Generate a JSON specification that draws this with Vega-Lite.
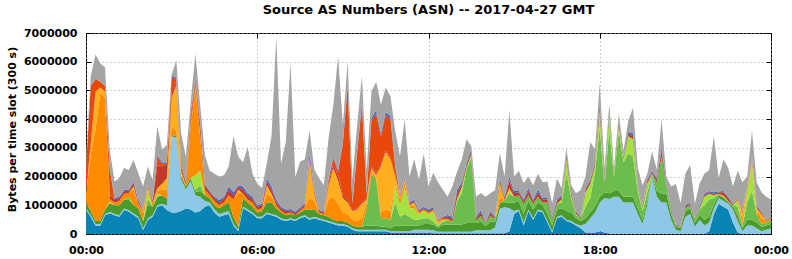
{
"$schema":"https://vega.github.io/schema/vega-lite/v6.json",
"width":685,"height":201,
"autosize":"none",
"padding":{"left":86,"top":33,"right":21,"bottom":25},
"background":"white",
"title":{"text":"Source AS Numbers (ASN) -- 2017-04-27 GMT","font":"DejaVu Sans","fontSize":13,"fontWeight":"bold","color":"black","anchor":"middle","offset":10},
"data":{"values":[
{"t":0,"A":850000,"B":50000,"C":200000,"D":0,"E":0,"F":300000,"G":0,"H":0,"I":900000,"J":0,"K":300000},
{"t":10,"A":600000,"B":50000,"C":150000,"D":0,"E":0,"F":2000000,"G":300000,"H":50000,"I":2000000,"J":0,"K":350000},
{"t":20,"A":300000,"B":50000,"C":100000,"D":0,"E":0,"F":3200000,"G":1300000,"H":0,"I":450000,"J":0,"K":850000},
{"t":30,"A":300000,"B":50000,"C":100000,"D":0,"E":0,"F":4450000,"G":200000,"H":0,"I":200000,"J":0,"K":650000},
{"t":40,"A":650000,"B":50000,"C":150000,"D":0,"E":0,"F":3900000,"G":200000,"H":0,"I":200000,"J":0,"K":650000},
{"t":50,"A":720000,"B":50000,"C":300000,"D":0,"E":50000,"F":100000,"G":0,"H":150000,"I":900000,"J":50000,"K":600000},
{"t":60,"A":650000,"B":50000,"C":300000,"D":0,"E":0,"F":100000,"G":0,"H":100000,"I":0,"J":50000,"K":580000},
{"t":70,"A":600000,"B":50000,"C":350000,"D":0,"E":0,"F":150000,"G":0,"H":100000,"I":0,"J":50000,"K":650000},
{"t":80,"A":840000,"B":50000,"C":300000,"D":0,"E":0,"F":200000,"G":0,"H":100000,"I":0,"J":50000,"K":760000},
{"t":90,"A":780000,"B":50000,"C":350000,"D":100000,"E":0,"F":150000,"G":0,"H":80000,"I":0,"J":40000,"K":680000},
{"t":100,"A":660000,"B":50000,"C":300000,"D":0,"E":0,"F":550000,"G":100000,"H":120000,"I":0,"J":50000,"K":750000},
{"t":110,"A":550000,"B":50000,"C":300000,"D":0,"E":0,"F":150000,"G":0,"H":80000,"I":0,"J":60000,"K":930000},
{"t":120,"A":140000,"B":50000,"C":250000,"D":0,"E":0,"F":300000,"G":50000,"H":50000,"I":0,"J":0,"K":810000},
{"t":130,"A":490000,"B":50000,"C":500000,"D":200000,"E":300000,"F":100000,"G":0,"H":60000,"I":0,"J":0,"K":650000},
{"t":140,"A":600000,"B":50000,"C":300000,"D":0,"E":0,"F":150000,"G":0,"H":50000,"I":0,"J":40000,"K":690000},
{"t":150,"A":950000,"B":50000,"C":300000,"D":0,"E":100000,"F":100000,"G":100000,"H":800000,"I":300000,"J":50000,"K":1000000},
{"t":160,"A":1000000,"B":50000,"C":300000,"D":0,"E":0,"F":200000,"G":200000,"H":600000,"I":100000,"J":50000,"K":430000},
{"t":170,"A":840000,"B":150000,"C":250000,"D":0,"E":0,"F":300000,"G":400000,"H":500000,"I":0,"J":50000,"K":610000},
{"t":180,"A":750000,"B":2650000,"C":50000,"D":0,"E":0,"F":300000,"G":1000000,"H":200000,"I":500000,"J":50000,"K":50000},
{"t":190,"A":750000,"B":2600000,"C":50000,"D":0,"E":0,"F":200000,"G":1600000,"H":100000,"I":100000,"J":50000,"K":600000},
{"t":200,"A":800000,"B":1100000,"C":100000,"D":0,"E":0,"F":100000,"G":100000,"H":100000,"I":100000,"J":50000,"K":1050000},
{"t":210,"A":900000,"B":650000,"C":100000,"D":0,"E":0,"F":0,"G":50000,"H":100000,"I":0,"J":50000,"K":850000},
{"t":220,"A":850000,"B":1000000,"C":100000,"D":0,"E":0,"F":1800000,"G":50000,"H":200000,"I":200000,"J":50000,"K":350000},
{"t":230,"A":750000,"B":600000,"C":100000,"D":100000,"E":500000,"F":3000000,"G":100000,"H":150000,"I":100000,"J":50000,"K":830000},
{"t":240,"A":800000,"B":500000,"C":200000,"D":200000,"E":500000,"F":1200000,"G":100000,"H":300000,"I":100000,"J":50000,"K":550000},
{"t":250,"A":950000,"B":200000,"C":200000,"D":0,"E":0,"F":200000,"G":0,"H":150000,"I":0,"J":50000,"K":1000000},
{"t":260,"A":1000000,"B":100000,"C":150000,"D":0,"E":0,"F":100000,"G":0,"H":100000,"I":0,"J":50000,"K":700000},
{"t":270,"A":750000,"B":100000,"C":150000,"D":0,"E":0,"F":150000,"G":0,"H":100000,"I":0,"J":50000,"K":800000},
{"t":280,"A":600000,"B":100000,"C":200000,"D":0,"E":0,"F":100000,"G":0,"H":100000,"I":0,"J":80000,"K":820000},
{"t":290,"A":650000,"B":100000,"C":250000,"D":0,"E":0,"F":100000,"G":0,"H":150000,"I":0,"J":50000,"K":750000},
{"t":300,"A":700000,"B":100000,"C":300000,"D":0,"E":0,"F":250000,"G":0,"H":200000,"I":0,"J":100000,"K":700000},
{"t":310,"A":300000,"B":50000,"C":250000,"D":0,"E":0,"F":600000,"G":0,"H":150000,"I":0,"J":100000,"K":1950000},
{"t":320,"A":100000,"B":50000,"C":100000,"D":0,"E":0,"F":1200000,"G":100000,"H":100000,"I":0,"J":50000,"K":1000000},
{"t":330,"A":900000,"B":50000,"C":300000,"D":0,"E":0,"F":150000,"G":0,"H":150000,"I":0,"J":100000,"K":850000},
{"t":340,"A":800000,"B":50000,"C":250000,"D":0,"E":0,"F":100000,"G":0,"H":150000,"I":0,"J":70000,"K":1600000},
{"t":350,"A":700000,"B":50000,"C":200000,"D":0,"E":0,"F":150000,"G":0,"H":120000,"I":0,"J":80000,"K":800000},
{"t":360,"A":550000,"B":50000,"C":150000,"D":0,"E":0,"F":100000,"G":0,"H":100000,"I":0,"J":50000,"K":750000},
{"t":370,"A":550000,"B":50000,"C":200000,"D":0,"E":0,"F":100000,"G":0,"H":100000,"I":0,"J":50000,"K":550000},
{"t":380,"A":700000,"B":50000,"C":350000,"D":0,"E":0,"F":300000,"G":300000,"H":150000,"I":0,"J":100000,"K":500000},
{"t":390,"A":650000,"B":50000,"C":400000,"D":0,"E":0,"F":200000,"G":100000,"H":150000,"I":0,"J":100000,"K":1750000},
{"t":400,"A":600000,"B":50000,"C":250000,"D":0,"E":0,"F":100000,"G":0,"H":120000,"I":0,"J":70000,"K":5690000},
{"t":410,"A":500000,"B":50000,"C":200000,"D":0,"E":0,"F":50000,"G":0,"H":100000,"I":0,"J":50000,"K":1500000},
{"t":420,"A":450000,"B":50000,"C":150000,"D":0,"E":0,"F":50000,"G":0,"H":100000,"I":0,"J":50000,"K":2350000},
{"t":430,"A":500000,"B":50000,"C":150000,"D":0,"E":0,"F":50000,"G":0,"H":70000,"I":0,"J":50000,"K":5100000},
{"t":440,"A":450000,"B":50000,"C":150000,"D":0,"E":0,"F":0,"G":0,"H":80000,"I":0,"J":50000,"K":1200000},
{"t":450,"A":550000,"B":50000,"C":150000,"D":0,"E":0,"F":50000,"G":0,"H":70000,"I":0,"J":50000,"K":1600000},
{"t":460,"A":600000,"B":50000,"C":200000,"D":0,"E":0,"F":100000,"G":0,"H":70000,"I":0,"J":50000,"K":1530000},
{"t":470,"A":500000,"B":50000,"C":300000,"D":0,"E":0,"F":400000,"G":1300000,"H":100000,"I":0,"J":150000,"K":800000},
{"t":480,"A":550000,"B":50000,"C":250000,"D":0,"E":0,"F":300000,"G":250000,"H":100000,"I":0,"J":50000,"K":700000},
{"t":490,"A":500000,"B":50000,"C":150000,"D":0,"E":0,"F":50000,"G":0,"H":50000,"I":0,"J":40000,"K":1100000},
{"t":500,"A":450000,"B":50000,"C":150000,"D":0,"E":0,"F":50000,"G":0,"H":50000,"I":0,"J":40000,"K":910000},
{"t":510,"A":400000,"B":50000,"C":150000,"D":0,"E":0,"F":600000,"G":500000,"H":100000,"I":100000,"J":50000,"K":1400000},
{"t":520,"A":350000,"B":50000,"C":100000,"D":0,"E":0,"F":800000,"G":1000000,"H":150000,"I":200000,"J":50000,"K":1800000},
{"t":530,"A":300000,"B":50000,"C":100000,"D":0,"E":0,"F":600000,"G":800000,"H":150000,"I":150000,"J":80000,"K":3970000},
{"t":540,"A":300000,"B":50000,"C":100000,"D":0,"E":0,"F":300000,"G":500000,"H":100000,"I":1800000,"J":50000,"K":600000},
{"t":550,"A":250000,"B":50000,"C":100000,"D":0,"E":0,"F":300000,"G":400000,"H":100000,"I":3900000,"J":100000,"K":800000},
{"t":560,"A":150000,"B":50000,"C":100000,"D":0,"E":0,"F":200000,"G":300000,"H":50000,"I":200000,"J":50000,"K":800000},
{"t":570,"A":100000,"B":50000,"C":100000,"D":0,"E":0,"F":200000,"G":400000,"H":50000,"I":1900000,"J":100000,"K":900000},
{"t":580,"A":100000,"B":50000,"C":100000,"D":0,"E":0,"F":300000,"G":500000,"H":50000,"I":3400000,"J":100000,"K":900000},
{"t":590,"A":100000,"B":50000,"C":150000,"D":600000,"E":0,"F":200000,"G":100000,"H":50000,"I":100000,"J":50000,"K":800000},
{"t":600,"A":100000,"B":50000,"C":150000,"D":1800000,"E":0,"F":100000,"G":100000,"H":50000,"I":1600000,"J":100000,"K":900000},
{"t":610,"A":100000,"B":50000,"C":150000,"D":1600000,"E":0,"F":50000,"G":100000,"H":50000,"I":2100000,"J":100000,"K":1000000},
{"t":620,"A":100000,"B":50000,"C":100000,"D":300000,"E":0,"F":200000,"G":1600000,"H":50000,"I":1000000,"J":100000,"K":1000000},
{"t":630,"A":100000,"B":50000,"C":100000,"D":300000,"E":0,"F":300000,"G":2000000,"H":50000,"I":1250000,"J":100000,"K":850000},
{"t":640,"A":50000,"B":50000,"C":100000,"D":300000,"E":0,"F":300000,"G":1800000,"H":50000,"I":1350000,"J":100000,"K":700000},
{"t":650,"A":50000,"B":50000,"C":200000,"D":800000,"E":600000,"F":100000,"G":200000,"H":50000,"I":300000,"J":50000,"K":1200000},
{"t":660,"A":50000,"B":50000,"C":200000,"D":300000,"E":400000,"F":200000,"G":100000,"H":50000,"I":0,"J":50000,"K":1300000},
{"t":670,"A":50000,"B":50000,"C":200000,"D":400000,"E":900000,"F":200000,"G":100000,"H":50000,"I":0,"J":50000,"K":2000000},
{"t":680,"A":50000,"B":50000,"C":200000,"D":300000,"E":300000,"F":50000,"G":50000,"H":50000,"I":0,"J":50000,"K":900000},
{"t":690,"A":50000,"B":100000,"C":150000,"D":200000,"E":400000,"F":100000,"G":100000,"H":50000,"I":0,"J":50000,"K":1400000},
{"t":700,"A":50000,"B":100000,"C":150000,"D":200000,"E":200000,"F":50000,"G":0,"H":50000,"I":0,"J":40000,"K":1050000},
{"t":710,"A":50000,"B":100000,"C":200000,"D":200000,"E":250000,"F":50000,"G":0,"H":50000,"I":0,"J":50000,"K":1850000},
{"t":720,"A":50000,"B":100000,"C":200000,"D":200000,"E":150000,"F":50000,"G":0,"H":50000,"I":0,"J":50000,"K":800000},
{"t":730,"A":30000,"B":100000,"C":200000,"D":100000,"E":350000,"F":50000,"G":0,"H":50000,"I":0,"J":50000,"K":1200000},
{"t":740,"A":30000,"B":50000,"C":150000,"D":50000,"E":50000,"F":50000,"G":50000,"H":0,"I":50000,"J":20000,"K":1300000},
{"t":750,"A":30000,"B":50000,"C":250000,"D":100000,"E":50000,"F":50000,"G":0,"H":50000,"I":0,"J":20000,"K":950000},
{"t":760,"A":30000,"B":50000,"C":250000,"D":150000,"E":0,"F":50000,"G":0,"H":80000,"I":0,"J":50000,"K":640000},
{"t":770,"A":30000,"B":50000,"C":250000,"D":100000,"E":0,"F":0,"G":0,"H":100000,"I":0,"J":70000,"K":1050000},
{"t":780,"A":30000,"B":50000,"C":250000,"D":800000,"E":100000,"F":0,"G":0,"H":200000,"I":0,"J":100000,"K":640000},
{"t":790,"A":30000,"B":50000,"C":250000,"D":1100000,"E":200000,"F":0,"G":0,"H":100000,"I":0,"J":70000,"K":800000},
{"t":800,"A":30000,"B":50000,"C":300000,"D":1900000,"E":50000,"F":0,"G":0,"H":100000,"I":0,"J":70000,"K":800000},
{"t":810,"A":30000,"B":50000,"C":300000,"D":2300000,"E":100000,"F":0,"G":0,"H":100000,"I":0,"J":70000,"K":100000},
{"t":820,"A":30000,"B":100000,"C":250000,"D":100000,"E":0,"F":0,"G":0,"H":70000,"I":0,"J":50000,"K":700000},
{"t":830,"A":30000,"B":100000,"C":300000,"D":200000,"E":0,"F":0,"G":0,"H":120000,"I":0,"J":80000,"K":600000},
{"t":840,"A":30000,"B":100000,"C":150000,"D":100000,"E":0,"F":0,"G":0,"H":30000,"I":0,"J":20000,"K":870000},
{"t":850,"A":30000,"B":100000,"C":300000,"D":200000,"E":0,"F":0,"G":0,"H":100000,"I":0,"J":50000,"K":640000},
{"t":860,"A":30000,"B":200000,"C":200000,"D":100000,"E":0,"F":0,"G":0,"H":40000,"I":0,"J":30000,"K":930000},
{"t":870,"A":30000,"B":850000,"C":200000,"D":0,"E":0,"F":200000,"G":500000,"H":100000,"I":0,"J":100000,"K":830000},
{"t":880,"A":30000,"B":900000,"C":150000,"D":100000,"E":0,"F":0,"G":0,"H":70000,"I":0,"J":50000,"K":700000},
{"t":890,"A":100000,"B":800000,"C":200000,"D":300000,"E":100000,"F":0,"G":100000,"H":250000,"I":50000,"J":100000,"K":2300000},
{"t":900,"A":700000,"B":100000,"C":300000,"D":200000,"E":0,"F":0,"G":0,"H":120000,"I":0,"J":80000,"K":500000},
{"t":910,"A":800000,"B":50000,"C":300000,"D":200000,"E":0,"F":0,"G":0,"H":100000,"I":0,"J":50000,"K":700000},
{"t":920,"A":300000,"B":100000,"C":300000,"D":350000,"E":0,"F":0,"G":0,"H":100000,"I":0,"J":50000,"K":570000},
{"t":930,"A":800000,"B":50000,"C":300000,"D":200000,"E":0,"F":0,"G":0,"H":150000,"I":0,"J":100000,"K":400000},
{"t":940,"A":500000,"B":50000,"C":300000,"D":200000,"E":0,"F":0,"G":0,"H":100000,"I":0,"J":50000,"K":500000},
{"t":950,"A":800000,"B":50000,"C":250000,"D":200000,"E":0,"F":0,"G":0,"H":150000,"I":0,"J":100000,"K":550000},
{"t":960,"A":750000,"B":50000,"C":200000,"D":100000,"E":0,"F":0,"G":0,"H":100000,"I":0,"J":50000,"K":550000},
{"t":970,"A":400000,"B":50000,"C":250000,"D":400000,"E":0,"F":0,"G":0,"H":100000,"I":0,"J":50000,"K":580000},
{"t":980,"A":50000,"B":50000,"C":200000,"D":200000,"E":0,"F":0,"G":0,"H":50000,"I":0,"J":50000,"K":470000},
{"t":990,"A":550000,"B":50000,"C":250000,"D":200000,"E":0,"F":0,"G":0,"H":100000,"I":0,"J":50000,"K":740000},
{"t":1000,"A":600000,"B":50000,"C":250000,"D":200000,"E":100000,"F":0,"G":0,"H":100000,"I":0,"J":50000,"K":250000},
{"t":1010,"A":450000,"B":50000,"C":300000,"D":1300000,"E":500000,"F":0,"G":0,"H":100000,"I":0,"J":100000,"K":200000},
{"t":1020,"A":400000,"B":50000,"C":300000,"D":500000,"E":100000,"F":0,"G":0,"H":100000,"I":0,"J":50000,"K":200000},
{"t":1030,"A":300000,"B":50000,"C":200000,"D":100000,"E":50000,"F":0,"G":0,"H":50000,"I":0,"J":30000,"K":640000},
{"t":1040,"A":200000,"B":100000,"C":150000,"D":100000,"E":0,"F":0,"G":0,"H":30000,"I":0,"J":20000,"K":930000},
{"t":1050,"A":50000,"B":300000,"C":200000,"D":400000,"E":500000,"F":0,"G":0,"H":100000,"I":0,"J":50000,"K":400000},
{"t":1060,"A":50000,"B":500000,"C":200000,"D":500000,"E":500000,"F":0,"G":0,"H":100000,"I":0,"J":50000,"K":1300000},
{"t":1070,"A":50000,"B":700000,"C":200000,"D":1200000,"E":200000,"F":0,"G":0,"H":100000,"I":0,"J":50000,"K":450000},
{"t":1080,"A":100000,"B":1000000,"C":200000,"D":2400000,"E":500000,"F":100000,"G":0,"H":150000,"I":0,"J":150000,"K":650000},
{"t":1090,"A":50000,"B":1200000,"C":200000,"D":200000,"E":0,"F":0,"G":0,"H":100000,"I":0,"J":50000,"K":500000},
{"t":1100,"A":20000,"B":1200000,"C":200000,"D":2200000,"E":600000,"F":0,"G":0,"H":100000,"I":0,"J":100000,"K":100000},
{"t":1110,"A":0,"B":1300000,"C":200000,"D":500000,"E":100000,"F":0,"G":0,"H":50000,"I":0,"J":50000,"K":100000},
{"t":1120,"A":0,"B":1300000,"C":200000,"D":2100000,"E":200000,"F":0,"G":0,"H":100000,"I":0,"J":100000,"K":200000},
{"t":1130,"A":0,"B":1100000,"C":200000,"D":1200000,"E":100000,"F":0,"G":0,"H":50000,"I":0,"J":50000,"K":200000},
{"t":1140,"A":0,"B":1100000,"C":200000,"D":1500000,"E":600000,"F":0,"G":0,"H":100000,"I":0,"J":50000,"K":400000},
{"t":1150,"A":0,"B":1100000,"C":200000,"D":1400000,"E":600000,"F":0,"G":0,"H":100000,"I":0,"J":100000,"K":900000},
{"t":1160,"A":0,"B":700000,"C":200000,"D":600000,"E":100000,"F":0,"G":0,"H":50000,"I":0,"J":50000,"K":600000},
{"t":1170,"A":0,"B":350000,"C":150000,"D":300000,"E":100000,"F":0,"G":0,"H":50000,"I":0,"J":30000,"K":720000},
{"t":1180,"A":0,"B":1000000,"C":150000,"D":300000,"E":300000,"F":0,"G":0,"H":100000,"I":0,"J":50000,"K":200000},
{"t":1190,"A":0,"B":2000000,"C":50000,"D":50000,"E":0,"F":0,"G":0,"H":50000,"I":0,"J":50000,"K":670000},
{"t":1200,"A":0,"B":1300000,"C":200000,"D":300000,"E":0,"F":0,"G":0,"H":100000,"I":0,"J":50000,"K":300000},
{"t":1210,"A":0,"B":1100000,"C":300000,"D":1300000,"E":0,"F":0,"G":0,"H":200000,"I":0,"J":100000,"K":1000000},
{"t":1220,"A":0,"B":1100000,"C":300000,"D":300000,"E":0,"F":0,"G":0,"H":50000,"I":0,"J":50000,"K":200000},
{"t":1230,"A":0,"B":500000,"C":200000,"D":100000,"E":0,"F":0,"G":0,"H":50000,"I":0,"J":30000,"K":770000},
{"t":1240,"A":0,"B":150000,"C":100000,"D":50000,"E":0,"F":0,"G":0,"H":20000,"I":0,"J":20000,"K":1400000},
{"t":1250,"A":0,"B":100000,"C":100000,"D":50000,"E":0,"F":0,"G":0,"H":20000,"I":0,"J":10000,"K":800000},
{"t":1260,"A":0,"B":600000,"C":200000,"D":100000,"E":0,"F":0,"G":0,"H":50000,"I":0,"J":50000,"K":1100000},
{"t":1270,"A":0,"B":700000,"C":200000,"D":100000,"E":0,"F":0,"G":0,"H":50000,"I":0,"J":50000,"K":1300000},
{"t":1280,"A":0,"B":250000,"C":150000,"D":100000,"E":0,"F":0,"G":0,"H":30000,"I":0,"J":20000,"K":500000},
{"t":1290,"A":0,"B":500000,"C":150000,"D":200000,"E":50000,"F":0,"G":0,"H":50000,"I":0,"J":50000,"K":770000},
{"t":1300,"A":0,"B":300000,"C":200000,"D":500000,"E":300000,"F":0,"G":0,"H":50000,"I":0,"J":50000,"K":700000},
{"t":1310,"A":100000,"B":300000,"C":200000,"D":600000,"E":200000,"F":0,"G":0,"H":50000,"I":0,"J":50000,"K":730000},
{"t":1320,"A":700000,"B":200000,"C":150000,"D":200000,"E":100000,"F":0,"G":0,"H":50000,"I":0,"J":50000,"K":1950000},
{"t":1330,"A":1050000,"B":200000,"C":100000,"D":50000,"E":0,"F":0,"G":0,"H":50000,"I":0,"J":30000,"K":470000},
{"t":1340,"A":950000,"B":200000,"C":100000,"D":50000,"E":0,"F":50000,"G":0,"H":100000,"I":0,"J":50000,"K":1100000},
{"t":1350,"A":850000,"B":200000,"C":50000,"D":50000,"E":0,"F":0,"G":0,"H":100000,"I":0,"J":50000,"K":1000000},
{"t":1360,"A":400000,"B":450000,"C":100000,"D":50000,"E":0,"F":0,"G":0,"H":30000,"I":0,"J":20000,"K":600000},
{"t":1370,"A":50000,"B":400000,"C":200000,"D":300000,"E":200000,"F":50000,"G":0,"H":30000,"I":0,"J":20000,"K":950000},
{"t":1380,"A":0,"B":100000,"C":100000,"D":100000,"E":0,"F":250000,"G":200000,"H":50000,"I":0,"J":20000,"K":980000},
{"t":1390,"A":0,"B":300000,"C":200000,"D":600000,"E":400000,"F":100000,"G":0,"H":50000,"I":0,"J":50000,"K":300000},
{"t":1400,"A":0,"B":300000,"C":200000,"D":1000000,"E":900000,"F":100000,"G":100000,"H":50000,"I":0,"J":50000,"K":900000},
{"t":1410,"A":0,"B":200000,"C":200000,"D":300000,"E":0,"F":100000,"G":100000,"H":50000,"I":0,"J":50000,"K":800000},
{"t":1420,"A":0,"B":100000,"C":150000,"D":100000,"E":0,"F":200000,"G":150000,"H":50000,"I":0,"J":30000,"K":670000},
{"t":1430,"A":0,"B":150000,"C":150000,"D":100000,"E":0,"F":50000,"G":0,"H":30000,"I":0,"J":20000,"K":800000},
{"t":1440,"A":0,"B":200000,"C":150000,"D":150000,"E":0,"F":50000,"G":0,"H":30000,"I":0,"J":20000,"K":600000}
]},
"transform":[{"fold":["A","B","C","D","E","F","G","H","I","J","K"],"as":["asn","bytes"]}],
"layer":[
{"mark":{"type":"area","interpolate":"linear"},
 "encoding":{
  "x":{"field":"t","type":"quantitative","scale":{"domain":[0,1440],"nice":false,"zero":false},
   "axis":{"orient":"bottom","values":[0,360,720,1080,1440],"labelExpr":"utcFormat(datum.value*60000,'%H:%M')","title":null,"grid":true,"tickSize":-5,"labelPadding":15,"labelFlush":false}},
  "y":{"field":"bytes","type":"quantitative","stack":"zero","scale":{"domain":[0,7000000],"nice":false},
   "axis":{"orient":"left","values":[0,1000000,2000000,3000000,4000000,5000000,6000000,7000000],"format":"d","title":"Bytes per time slot (300 s)","grid":true,"tickSize":-5,"labelPadding":14,"titlePadding":6,"titleY":96}},
  "color":{"field":"asn","type":"nominal","legend":null,
   "scale":{"domain":["A","B","C","D","E","F","G","H","I","J","K"],
    "range":["#0a84b5","#8ec8e6","#4b9a2c","#6dbd4c","#a4e242","#ff8c00","#ffae1e","#c0392b","#e8490a","#3a64c4","#a4a4a4"]}},
  "order":{"field":"asn","sort":"ascending"}
 }},
{"mark":{"type":"point","opacity":0},
 "encoding":{
  "x":{"field":"t","type":"quantitative","scale":{"domain":[0,1440],"nice":false,"zero":false},
   "axis":{"orient":"top","values":[0,360,720,1080,1440],"labels":false,"title":null,"grid":false,"tickSize":-5}},
  "y":{"field":"bytes","type":"quantitative","scale":{"domain":[0,7000000],"nice":false},
   "axis":{"orient":"right","values":[0,1000000,2000000,3000000,4000000,5000000,6000000,7000000],"labels":false,"title":null,"grid":false,"tickSize":-5}}
 }}
],
"resolve":{"axis":{"x":"independent","y":"independent"}},
"config":{
 "view":{"stroke":"black","strokeWidth":1},
 "axis":{"domain":false,"labelFont":"DejaVu Sans","labelFontWeight":"bold","labelFontSize":11,"labelColor":"black","titleFont":"DejaVu Sans","titleFontWeight":"bold","titleFontSize":11,"titleColor":"black","tickColor":"black","tickWidth":1,"gridColor":"#999999","gridDash":[1,3],"gridOpacity":1,"gridWidth":1}
}
}
